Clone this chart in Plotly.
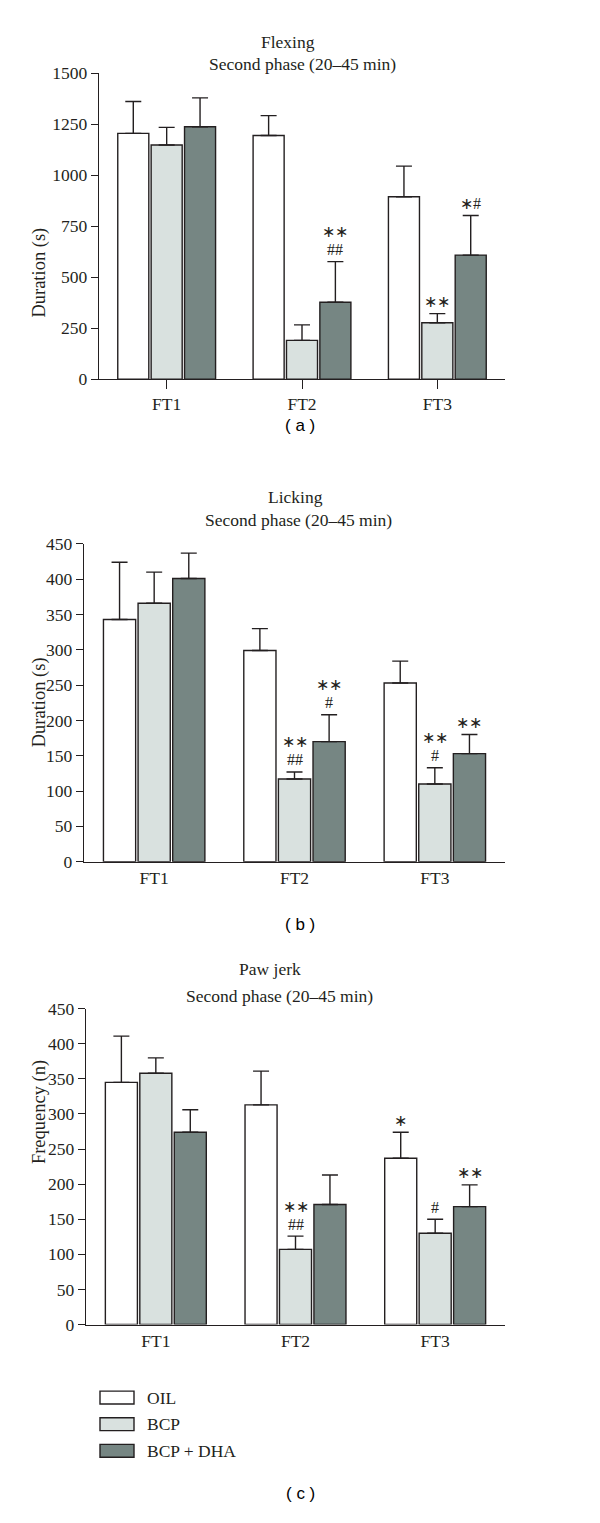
import plotly.graph_objects as go

W, H = 600, 1523

categories = ["FT1", "FT2", "FT3"]
series_names = ["OIL", "BCP", "BCP + DHA"]
series_colors = ["#ffffff", "#d9e1df", "#768683"]

# Panel (a) Flexing duration
flex_mean = [[1205, 1194, 894], [1148, 190, 276], [1237, 377, 608]]
flex_err = [[156, 98, 150], [86, 76, 45], [142, 199, 194]]
flex_marks = [["", "", ""], ["", "", "∗∗"], ["", "∗∗\n##", "∗#"]]

# Panel (b) Licking duration
lick_mean = [[343, 299, 253], [366, 117, 110], [401, 170, 153]]
lick_err = [[81, 31, 31], [44, 10, 23], [36, 38, 27]]
lick_marks = [["", "", ""], ["", "∗∗\n##", "∗∗\n#"], ["", "∗∗\n#", "∗∗"]]

# Panel (c) Paw jerk frequency
paw_mean = [[345, 313, 237], [358, 107, 130], [274, 171, 168]]
paw_err = [[66, 48, 37], [22, 19, 20], [32, 42, 31]]
paw_marks = [["", "", "∗"], ["", "∗∗\n##", "#"], ["", "", "∗∗"]]

panels = [
    dict(mean=flex_mean, err=flex_err, marks=flex_marks, ymax=1500, dtick=250,
         ytitle="Duration (s)", title=("Flexing", "Second phase (20–45 min)"),
         px=(99, 505), py=(64, 374), xticks=True, label="( a )", label_y=421,
         tpos=((288, 32), (302, 55))),
    dict(mean=lick_mean, err=lick_err, marks=lick_marks, ymax=450, dtick=50,
         ytitle="Duration (s)", title=("Licking", "Second phase (20–45 min)"),
         px=(84, 505), py=(541, 863), xticks=False, label="( b )", label_y=927,
         tpos=((295, 493), (298, 517))),
    dict(mean=paw_mean, err=paw_err, marks=paw_marks, ymax=450, dtick=50,
         ytitle="Frequency (n)", title=("Paw jerk", "Second phase (20–45 min)"),
         px=(86, 505), py=(1012, 1332), xticks=False, label="( c )", label_y=1503,
         tpos=((270, 972), (279, 999))),
]

SERIF = "Liberation Serif"
INK = "#231f20"
FS = 17.5

fig = go.Figure()
annotations = []
shapes = []

def px_x(x):
    return x / W

def px_y(y):
    return 1 - y / H

bargap, bargroupgap = 0.26, 0.07
group_w = 1 - bargap
slot = group_w / 3

for p_i, p in enumerate(panels):
    sfx = "" if p_i == 0 else str(p_i + 1)
    xa, ya = "x" + sfx, "y" + sfx
    for s_i, name in enumerate(series_names):
        fig.add_trace(go.Bar(
            x=categories, y=p["mean"][s_i], name=name, xaxis=xa, yaxis=ya,
            offsetgroup=str(s_i), showlegend=False,
            marker=dict(color=series_colors[s_i], line=dict(color=INK, width=1.4)),
            error_y=dict(type="data", array=p["err"][s_i], arrayminus=[0] * 3,
                         symmetric=False, color=INK, thickness=1.4, width=8),
        ))
        for c_i in range(len(categories)):
            mark = p["marks"][s_i][c_i]
            if not mark:
                continue
            lines = mark.split("\n")[::-1]
            for l_i, line in enumerate(lines):
                annotations.append(dict(
                    x=c_i - group_w / 2 + slot * (s_i + 0.5),
                    y=p["mean"][s_i][c_i] + p["err"][s_i][c_i],
                    xref=xa, yref=ya, text=line, showarrow=False,
                    yanchor="middle", yshift=12 + 18 * l_i,
                    font=dict(family=SERIF, size=16, color=INK),
                ))
    fig.layout["xaxis" + sfx] = dict(
        domain=[px_x(p["px"][0]), px_x(p["px"][1])], range=[-0.5, 2.5],
        anchor=ya, showline=True, linecolor=INK, linewidth=1.4,
        ticks="outside" if p["xticks"] else "", ticklen=9, tickwidth=1.4, tickcolor=INK,
        showgrid=False, zeroline=False,
        tickfont=dict(family=SERIF, size=FS, color=INK), type="category",
    )
    fig.layout["yaxis" + sfx] = dict(
        domain=[px_y(p["py"][1]), px_y(p["py"][0])], range=[0, p["ymax"]],
        dtick=p["dtick"], tick0=0, anchor=xa, showline=True, linecolor=INK, linewidth=1.4,
        ticks="outside", ticklen=7, tickwidth=1.4, tickcolor=INK,
        showgrid=False, zeroline=False,
        tickfont=dict(family=SERIF, size=FS, color=INK),
    )
    annotations.append(dict(
        x=px_x(27), y=px_y((p["py"][0] + p["py"][1]) / 2), xref="paper", yref="paper",
        text=p["ytitle"], textangle=-90, showarrow=False,
        font=dict(family=SERIF, size=18.5, color=INK),
    ))
    for (tx, ty), t in zip(p["tpos"], p["title"]):
        annotations.append(dict(
            x=px_x(tx), y=px_y(ty), xref="paper", yref="paper", text=t,
            showarrow=False, yanchor="middle",
            font=dict(family=SERIF, size=FS, color=INK),
        ))
    annotations.append(dict(
        x=px_x(300), y=px_y(p["label_y"]), xref="paper", yref="paper", text=p["label"],
        showarrow=False, yanchor="middle",
        font=dict(family="Liberation Sans", size=17, color="#000000"),
    ))

# legend drawn as boxes + labels
leg_y = [1406, 1433, 1460]
for s_i, name in enumerate(series_names):
    shapes.append(dict(
        type="rect", xref="paper", yref="paper",
        x0=px_x(100), x1=px_x(134), y0=px_y(leg_y[s_i] + 6.5), y1=px_y(leg_y[s_i] - 6.5),
        fillcolor=series_colors[s_i], line=dict(color=INK, width=1.4),
    ))
    annotations.append(dict(
        x=px_x(145), y=px_y(leg_y[s_i]), xref="paper", yref="paper", text=name,
        showarrow=False, xanchor="left", yanchor="middle",
        font=dict(family=SERIF, size=FS, color=INK),
    ))

fig.update_layout(
    width=W, height=H, autosize=False,
    margin=dict(l=0, r=0, t=0, b=0),
    paper_bgcolor="white", plot_bgcolor="white",
    barmode="group", bargap=bargap, bargroupgap=bargroupgap,
    annotations=annotations, shapes=shapes,
)

fig.write_html("out.html", config={"displayModeBar": False},
               post_script="document.body.style.margin='0px';document.body.style.overflow='hidden';")
